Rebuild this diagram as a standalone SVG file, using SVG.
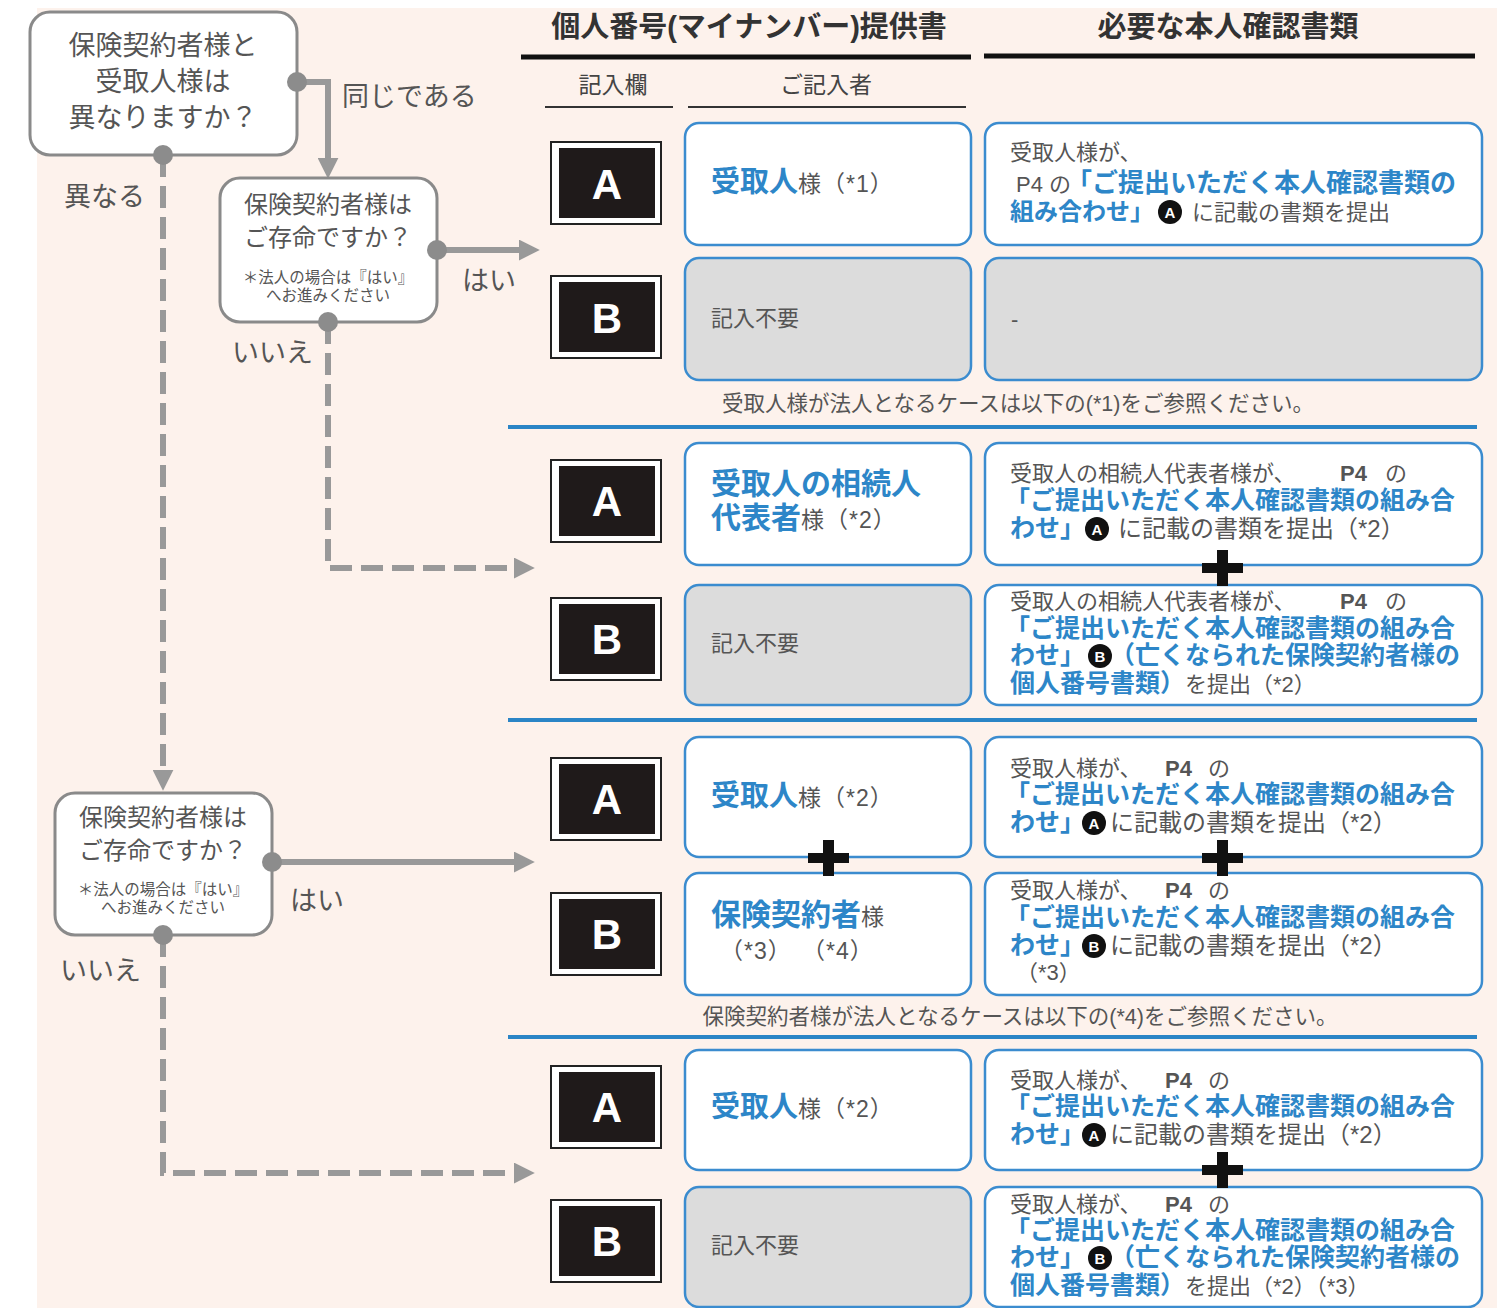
<svg xmlns="http://www.w3.org/2000/svg" width="1497" height="1308" viewBox="0 0 1497 1308">
<defs>
<style>
text{font-family:"Liberation Sans","Noto Sans CJK JP",sans-serif}
.q{fill:#fff;stroke:#8a8a8a;stroke-width:3}
.qt{font-size:24px;fill:#555;text-anchor:middle}
.qs{font-size:15.5px}
.lbl{font-size:27px;fill:#555}
.hdr{font-size:29px;font-weight:bold;fill:#333;text-anchor:middle}
.sub{font-size:23px;fill:#444;text-anchor:middle}
.kout{fill:#fff;stroke:#222;stroke-width:2}
.kin{fill:#1f1a1a}
.kl{font-size:42px;font-weight:bold;fill:#fff;text-anchor:middle}
.cw{fill:#fff;stroke:#3b8ccf;stroke-width:2.5}
.cg{fill:#dcdcdc;stroke:#3b8ccf;stroke-width:2.5}
.b{font-weight:bold;fill:#2d86c8;font-size:25px}
.g{fill:#555;font-size:22px}
.g24{fill:#555;font-size:24px}
.pb{font-weight:bold}
.nm{font-size:29px;font-weight:bold;fill:#2d86c8}
.nm30{font-size:30px;font-weight:bold;fill:#2d86c8}
.sm{font-size:23px;fill:#555;letter-spacing:1px}
.note{font-size:21.5px;fill:#555;text-anchor:middle}
.sep{stroke:#2b85c6;stroke-width:4}
.hl{stroke:#111;stroke-width:5}
.hl2{stroke:#333;stroke-width:2}
.solid{fill:none;stroke:#999;stroke-width:6}
.dash{fill:none;stroke:#999;stroke-width:6;stroke-dasharray:22 9}
.dot{fill:#8c8c8c}
.cc{fill:#111}
.ccl{font-size:15px;font-weight:bold;fill:#fff}
.plus{fill:#111}
</style>
<marker id="ah" viewBox="0 0 10 10" refX="2" refY="5" markerWidth="3.5" markerHeight="3.5" markerUnits="strokeWidth" orient="auto">
<path d="M0,0 L10,5 L0,10 z" fill="#999"/>
</marker>
</defs>
<rect x="0" y="0" width="1497" height="1308" fill="#fff"/>
<rect x="37" y="8" width="1460" height="1300" fill="#fdf2ec"/>

<g id="headers">
<text class="hdr" x="749" y="37">個人番号(マイナンバー)提供書</text>
<line class="hl" x1="521" y1="57" x2="971" y2="57"/>
<text class="hdr" x="1228" y="37">必要な本人確認書類</text>
<line class="hl" x1="984" y1="56" x2="1475" y2="56"/>
<text class="sub" x="613" y="93">記入欄</text>
<line class="hl2" x1="545" y1="107" x2="673" y2="107"/>
<text class="sub" x="826" y="93">ご記入者</text>
<line class="hl2" x1="688" y1="107" x2="966" y2="107"/>
</g>

<g id="connectors">
<path class="solid" d="M297,82 H328 V162" marker-end="url(#ah)"/>
<path class="dash" d="M163,155 V774" marker-end="url(#ah)"/>
<path class="solid" d="M437,250 H523" marker-end="url(#ah)"/>
<path class="dash" d="M328,322 V568 H518" marker-end="url(#ah)"/>
<path class="solid" d="M272,862 H518" marker-end="url(#ah)"/>
<path class="dash" d="M163,935 V1173 H518" marker-end="url(#ah)"/>
<text class="lbl" x="342" y="106">同じである</text>
<text class="lbl" x="64" y="206">異なる</text>
<text class="lbl" x="462" y="290">はい</text>
<text class="lbl" x="232" y="362">いいえ</text>
<text class="lbl" x="290" y="910">はい</text>
<text class="lbl" x="60" y="980">いいえ</text>
</g>

<g id="q1">
<rect class="q" x="30" y="12" width="267" height="143" rx="20"/>
<text class="qt" style="font-size:27px"><tspan x="163" y="55">保険契約者様と</tspan><tspan x="163" y="91">受取人様は</tspan><tspan x="163" y="127">異なりますか？</tspan></text>
<circle class="dot" cx="297" cy="82" r="10"/>
<circle class="dot" cx="163" cy="155" r="10"/>
</g>

<g id="q2">
<rect class="q" x="220" y="178" width="217" height="144" rx="20"/>
<text class="qt"><tspan x="328" y="213">保険契約者様は</tspan><tspan x="328" y="246">ご存命ですか？</tspan><tspan class="qs" x="328" y="283">＊法人の場合は『はい』</tspan><tspan class="qs" x="328" y="301">へお進みください</tspan></text>
<circle class="dot" cx="437" cy="250" r="10"/>
<circle class="dot" cx="328" cy="322" r="10"/>
</g>

<g id="q3">
<rect class="q" x="55" y="793" width="217" height="142" rx="20"/>
<text class="qt"><tspan x="163" y="826">保険契約者様は</tspan><tspan x="163" y="859">ご存命ですか？</tspan><tspan class="qs" x="163" y="895">＊法人の場合は『はい』</tspan><tspan class="qs" x="163" y="913">へお進みください</tspan></text>
<circle class="dot" cx="272" cy="862" r="10"/>
<circle class="dot" cx="163" cy="935" r="10"/>
</g>

<!-- Row 1 -->
<g id="r1-key-a"><rect class="kout" x="551" y="142" width="110" height="82"/><rect class="kin" x="559" y="148" width="96" height="70"/><text class="kl" x="607" y="199">A</text></g>
<g id="r1-key-b"><rect class="kout" x="551" y="276" width="110" height="82"/><rect class="kin" x="559" y="282" width="96" height="70"/><text class="kl" x="607" y="333">B</text></g>
<g id="r1-who-a"><rect class="cw" x="685" y="123" width="286" height="122" rx="14"/>
<text x="711" y="192"><tspan class="nm">受取人</tspan><tspan class="sm">様（*1）</tspan></text></g>
<g id="r1-doc-a"><rect class="cw" x="985" y="123" width="497" height="122" rx="14"/>
<circle class="cc" cx="1170" cy="212" r="12"/>
<text><tspan class="g" x="1010" y="160">受取人様が、</tspan><tspan class="g" x="1016" y="192">P4 の</tspan><tspan class="b" style="font-size:26px" x="1066" y="192">「ご提出いただく本人確認書類の</tspan><tspan class="b" style="font-size:24px" x="1010" y="220">組み合わせ」</tspan><tspan class="ccl" x="1164.6" y="217.5">A</tspan><tspan class="g" x="1192" y="220">に記載の書類を提出</tspan></text></g>
<g id="r1-who-b"><rect class="cg" x="685" y="258" width="286" height="122" rx="14"/>
<text class="g" x="711" y="326">記入不要</text></g>
<g id="r1-doc-b"><rect class="cg" x="985" y="258" width="497" height="122" rx="14"/>
<text class="g" x="1011" y="327">-</text></g>
<text class="note" x="1018" y="411">受取人様が法人となるケースは以下の(*1)をご参照ください。</text>
<line class="sep" x1="508" y1="427" x2="1477" y2="427"/>

<!-- Row 2 -->
<g id="r2-key-a"><rect class="kout" x="551" y="460" width="110" height="82"/><rect class="kin" x="559" y="466" width="96" height="70"/><text class="kl" x="607" y="516">A</text></g>
<g id="r2-key-b"><rect class="kout" x="551" y="598" width="110" height="82"/><rect class="kin" x="559" y="604" width="96" height="70"/><text class="kl" x="607" y="654">B</text></g>
<g id="r2-who-a"><rect class="cw" x="685" y="443" width="286" height="122" rx="14"/>
<text><tspan class="nm30" x="711" y="494">受取人の相続人</tspan><tspan class="nm30" x="711" y="528">代表者</tspan><tspan class="sm">様（*2）</tspan></text></g>
<g id="r2-doc-a"><rect class="cw" x="985" y="443" width="497" height="122" rx="14"/>
<circle class="cc" cx="1097" cy="529" r="12"/>
<text><tspan class="g" x="1010" y="481">受取人の相続人代表者様が、</tspan><tspan class="g pb" x="1340" y="481">P4</tspan><tspan class="g" x="1385" y="481">の</tspan><tspan class="b" x="1005" y="509">「ご提出いただく本人確認書類の組み合</tspan><tspan class="b" x="1010" y="537">わせ」</tspan><tspan class="ccl" x="1091.6" y="534.5">A</tspan><tspan class="g24" x="1118" y="537">に記載の書類を提出（*2）</tspan></text></g>
<g id="r2-who-b"><rect class="cg" x="685" y="585" width="286" height="120" rx="14"/>
<text class="g" x="711" y="651">記入不要</text></g>
<g id="r2-doc-b"><rect class="cw" x="985" y="585" width="497" height="120" rx="14"/>
<circle class="cc" cx="1100" cy="656" r="12"/>
<text><tspan class="g" x="1010" y="609">受取人の相続人代表者様が、</tspan><tspan class="g pb" x="1340" y="609">P4</tspan><tspan class="g" x="1385" y="609">の</tspan><tspan class="b" x="1005" y="637">「ご提出いただく本人確認書類の組み合</tspan><tspan class="b" x="1010" y="664">わせ」</tspan><tspan class="ccl" x="1094.6" y="661.5">B</tspan><tspan class="b" x="1110" y="664">（亡くなられた保険契約者様の</tspan><tspan class="b" x="1010" y="692">個人番号書類）</tspan><tspan class="g">を提出（*2）</tspan></text></g>
<g id="r2-plus"><rect class="plus" x="1202" y="563" width="41" height="10"/><rect class="plus" x="1217" y="550" width="11" height="36"/></g>
<line class="sep" x1="508" y1="720" x2="1477" y2="720"/>

<!-- Row 3 -->
<g id="r3-key-a"><rect class="kout" x="551" y="758" width="110" height="82"/><rect class="kin" x="559" y="764" width="96" height="70"/><text class="kl" x="607" y="814">A</text></g>
<g id="r3-key-b"><rect class="kout" x="551" y="893" width="110" height="82"/><rect class="kin" x="559" y="899" width="96" height="70"/><text class="kl" x="607" y="949">B</text></g>
<g id="r3-who-a"><rect class="cw" x="685" y="737" width="286" height="120" rx="14"/>
<text x="711" y="806"><tspan class="nm">受取人</tspan><tspan class="sm">様（*2）</tspan></text></g>
<g id="r3-who-b"><rect class="cw" x="685" y="873" width="286" height="122" rx="14"/>
<text><tspan class="nm30" x="711" y="925">保険契約者</tspan><tspan class="sm">様</tspan><tspan class="sm" x="720" y="959">（*3）</tspan><tspan class="sm" x="802" y="959">（*4）</tspan></text></g>
<g id="r3-plus-who"><rect class="plus" x="808" y="853" width="41" height="10"/><rect class="plus" x="823" y="840" width="11" height="36"/></g>
<g id="r3-doc-a"><rect class="cw" x="985" y="737" width="497" height="120" rx="14"/>
<circle class="cc" cx="1094" cy="823" r="12"/>
<text><tspan class="g" x="1010" y="776">受取人様が、</tspan><tspan class="g pb" x="1165" y="776">P4</tspan><tspan class="g" x="1208" y="776">の</tspan><tspan class="b" x="1005" y="803">「ご提出いただく本人確認書類の組み合</tspan><tspan class="b" x="1010" y="831">わせ」</tspan><tspan class="ccl" x="1088.6" y="828.5">A</tspan><tspan class="g24" x="1110" y="831">に記載の書類を提出（*2）</tspan></text></g>
<g id="r3-doc-b"><rect class="cw" x="985" y="873" width="497" height="122" rx="14"/>
<circle class="cc" cx="1094" cy="946" r="12"/>
<text><tspan class="g" x="1010" y="898">受取人様が、</tspan><tspan class="g pb" x="1165" y="898">P4</tspan><tspan class="g" x="1208" y="898">の</tspan><tspan class="b" x="1005" y="926">「ご提出いただく本人確認書類の組み合</tspan><tspan class="b" x="1010" y="954">わせ」</tspan><tspan class="ccl" x="1088.6" y="951.5">B</tspan><tspan class="g24" x="1110" y="954">に記載の書類を提出（*2）</tspan><tspan class="g" x="1016" y="980">（*3）</tspan></text></g>
<g id="r3-plus-doc"><rect class="plus" x="1202" y="853" width="41" height="10"/><rect class="plus" x="1217" y="840" width="11" height="36"/></g>
<text class="note" x="1020" y="1024">保険契約者様が法人となるケースは以下の(*4)をご参照ください。</text>
<line class="sep" x1="508" y1="1037" x2="1477" y2="1037"/>

<!-- Row 4 -->
<g id="r4-key-a"><rect class="kout" x="551" y="1066" width="110" height="82"/><rect class="kin" x="559" y="1072" width="96" height="70"/><text class="kl" x="607" y="1122">A</text></g>
<g id="r4-key-b"><rect class="kout" x="551" y="1200" width="110" height="82"/><rect class="kin" x="559" y="1206" width="96" height="70"/><text class="kl" x="607" y="1256">B</text></g>
<g id="r4-who-a"><rect class="cw" x="685" y="1050" width="286" height="120" rx="14"/>
<text x="711" y="1117"><tspan class="nm">受取人</tspan><tspan class="sm">様（*2）</tspan></text></g>
<g id="r4-who-b"><rect class="cg" x="685" y="1187" width="286" height="120" rx="14"/>
<text class="g" x="711" y="1253">記入不要</text></g>
<g id="r4-doc-a"><rect class="cw" x="985" y="1050" width="497" height="120" rx="14"/>
<circle class="cc" cx="1094" cy="1135" r="12"/>
<text><tspan class="g" x="1010" y="1088">受取人様が、</tspan><tspan class="g pb" x="1165" y="1088">P4</tspan><tspan class="g" x="1208" y="1088">の</tspan><tspan class="b" x="1005" y="1115">「ご提出いただく本人確認書類の組み合</tspan><tspan class="b" x="1010" y="1143">わせ」</tspan><tspan class="ccl" x="1088.6" y="1140.5">A</tspan><tspan class="g24" x="1110" y="1143">に記載の書類を提出（*2）</tspan></text></g>
<g id="r4-doc-b"><rect class="cw" x="985" y="1187" width="497" height="120" rx="14"/>
<circle class="cc" cx="1100" cy="1258" r="12"/>
<text><tspan class="g" x="1010" y="1212">受取人様が、</tspan><tspan class="g pb" x="1165" y="1212">P4</tspan><tspan class="g" x="1208" y="1212">の</tspan><tspan class="b" x="1005" y="1239">「ご提出いただく本人確認書類の組み合</tspan><tspan class="b" x="1010" y="1266">わせ」</tspan><tspan class="ccl" x="1094.6" y="1263.5">B</tspan><tspan class="b" x="1110" y="1266">（亡くなられた保険契約者様の</tspan><tspan class="b" x="1010" y="1294">個人番号書類）</tspan><tspan class="g">を提出（*2）（*3）</tspan></text></g>
<g id="r4-plus"><rect class="plus" x="1202" y="1165" width="41" height="10"/><rect class="plus" x="1217" y="1152" width="11" height="36"/></g>
</svg>
